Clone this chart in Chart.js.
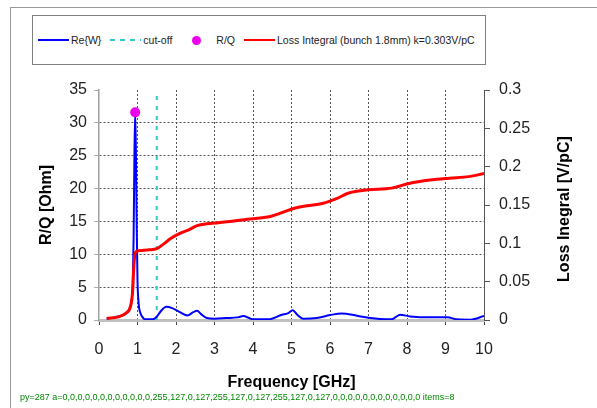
<!DOCTYPE html>
<html>
<head>
<meta charset="utf-8">
<script src="https://cdn.jsdelivr.net/npm/chart.js@4.4.1/dist/chart.umd.min.js"></script>
<style>
  html, body { margin: 0; padding: 0; background: #fff; }
  body { width: 597px; height: 408px; position: relative; overflow: hidden; font-family: "Liberation Sans", Arial, sans-serif; }
  .frame { position: absolute; left: 10px; top: 7px; width: 640px; height: 440px; border-top: 1px solid #999; border-left: 1px solid #999; }
  #chart { position: absolute; left: 0; top: 0; }
  #legend { position: absolute; left: 32px; top: 15px; width: 454px; height: 50px; box-sizing: border-box;
            border: 1px solid #808080; display: flex; align-items: center; padding-left: 5px; background: #fff; }
  .item { display: flex; align-items: center; margin-right: 9px; font-size: 10.5px; color: #222; white-space: nowrap; }
  .swatch { position: relative; width: 31px; height: 10px; margin-right: 2px; }
  .swatch .ln { position: absolute; left: 0; right: 0; top: 4px; height: 2px; }
  .swatch .dot { position: absolute; left: 11px; top: 1px; width: 9px; height: 9px; border-radius: 50%; }
  #dbg { position: absolute; left: 20px; top: 392px; font-size: 9px; color: #080; white-space: nowrap; }
</style>
</head>
<body>
<div class="frame"></div>
<canvas id="chart" width="597" height="408"></canvas>
<div id="legend"></div>
<div id="dbg"></div>
<script>
// Re{W} curve [GHz, Ohm]
const reFreq   = [0.2, 0.4, 0.6, 0.72, 0.8, 0.85, 0.88, 0.9, 0.92, 0.94, 0.96, 0.98, 1.0, 1.03, 1.08, 1.15, 1.2, 1.4, 1.5, 1.6, 1.75, 1.9, 2.1, 2.3, 2.45, 2.55, 2.65, 2.8, 3.0, 3.3, 3.6, 3.75, 3.9, 4.0, 4.4, 4.75, 4.9, 5.03, 5.15, 5.3, 5.65, 6.0, 6.3, 6.7, 7.05, 7.3, 7.6, 7.82, 8.08, 8.6, 9.05, 9.3, 9.65, 10.0];
const reValues = [0.2, 0.4, 0.7, 1.1, 1.8, 3.0, 6, 13, 25, 31.6, 25, 14, 6, 2.5, 1.0, 0.3, 0.1, 0.1, 0.5, 1.3, 2.0, 1.8, 1.2, 0.7, 1.2, 1.4, 0.9, 0.3, 0.2, 0.3, 0.4, 0.6, 0.3, 0.1, 0.1, 0.8, 1.0, 1.5, 0.8, 0.2, 0.3, 0.75, 1.0, 0.65, 0.3, 0.15, 0.1, 0.8, 0.55, 0.4, 0.4, 0.1, 0.05, 0.6];

// Loss integral [GHz, V/pC]
const lossFreq   = [0.2, 0.5, 0.7, 0.82, 0.87, 0.9, 0.93, 0.97, 1.05, 1.3, 1.5, 1.7, 1.85, 2.1, 2.3, 2.55, 2.8, 3.1, 3.4, 3.85, 4.45, 4.8, 5.1, 5.4, 5.8, 6.2, 6.45, 6.7, 7.0, 7.6, 8.05, 8.6, 9.1, 9.6, 10.0];
const lossValues = [0.002, 0.004, 0.009, 0.018, 0.035, 0.065, 0.085, 0.0895, 0.0905, 0.0915, 0.093, 0.1, 0.106, 0.113, 0.117, 0.123, 0.1255, 0.127, 0.1285, 0.1315, 0.135, 0.141, 0.146, 0.149, 0.152, 0.159, 0.165, 0.168, 0.17, 0.172, 0.178, 0.1825, 0.185, 0.187, 0.191];

// cut-off marker and R/Q peak
const cutoffFreq   = [1.5, 1.5];
const cutoffValues = [0, 35];
const rqFreq   = [0.94];
const rqValues = [31.6];

// tick values
const xTicks     = [0, 1, 2, 3, 4, 5, 6, 7, 8, 9, 10];
const leftTicks  = [0, 5, 10, 15, 20, 25, 30, 35];
const rightTicks = [0, 0.05, 0.1, 0.15, 0.2, 0.25, 0.3];

const pts = (xs, ys) => xs.map((x, i) => ({ x: x, y: ys[i] }));
const FONT = '"Liberation Sans", Arial, sans-serif';
Chart.defaults.font.family = FONT;

const datasets = [
  { label: 'Re{W}', data: pts(reFreq, reValues), borderColor: '#0000ff', borderWidth: 2,
    pointRadius: 0, cubicInterpolationMode: 'monotone', yAxisID: 'y', order: 2 },
  { label: 'cut-off', data: pts(cutoffFreq, cutoffValues), borderColor: '#33cccc', borderWidth: 2,
    borderDash: [4, 6], pointRadius: 0, yAxisID: 'y', order: 3 },
  { label: 'R/Q', data: pts(rqFreq, rqValues), showLine: false, pointRadius: 5, pointBorderWidth: 0,
    backgroundColor: '#ee00ee', borderColor: '#ee00ee', yAxisID: 'y', order: 0 },
  { label: 'Loss Integral (bunch 1.8mm) k=0.303V/pC', data: pts(lossFreq, lossValues), borderColor: '#ff0000',
    borderWidth: 3, pointRadius: 0, cubicInterpolationMode: 'monotone', yAxisID: 'y1', order: 1 }
];

// right axis title reads bottom-to-top, chart.js would rotate it the other way
const rightTitle = {
  id: 'rightTitle',
  afterDraw(chart) {
    const { ctx, chartArea, scales: { y1 } } = chart;
    ctx.save();
    ctx.font = 'bold 16px ' + FONT;
    ctx.fillStyle = '#000';
    ctx.textAlign = 'center';
    ctx.textBaseline = 'middle';
    ctx.translate(y1.right - 32, (chartArea.top + chartArea.bottom) / 2 + 4);
    ctx.rotate(-Math.PI / 2);
    ctx.fillText('Loss Inegral [V/pC]', 0, 0);
    ctx.restore();
  }
};

const tickVal = c => c.tick ? c.tick.value : null;

const chart = new Chart(document.getElementById('chart'), {
  type: 'line',
  data: { datasets: datasets },
  options: {
    responsive: false,
    animation: false,
    layout: { padding: { top: 90, left: 20, right: 0, bottom: 10 } },
    plugins: { legend: { display: false }, tooltip: { enabled: false } },
    scales: {
      x: {
        type: 'linear', position: 'bottom', min: 0, max: 10,
        afterBuildTicks: s => { s.ticks = xTicks.map(v => ({ value: v })); },
        ticks: { font: { size: 16 }, color: '#222', padding: 15, maxRotation: 0, autoSkip: false },
        grid: {
          color: c => (tickVal(c) === 0 || tickVal(c) === 10) ? 'rgba(0,0,0,0)' : '#555',
          tickColor: '#444', tickLength: 5, lineWidth: 1
        },
        border: { display: true, color: '#c0c0c0', width: 3, dash: [2, 2] },
        title: { display: true, text: 'Frequency [GHz]', color: '#000',
                 font: { size: 16, weight: 'bold' }, padding: { top: 13, bottom: 6 } },
        afterFit: s => { s.height = 78; }
      },
      y: {
        position: 'left', min: 0, max: 35,
        afterBuildTicks: s => { s.ticks = leftTicks.map(v => ({ value: v })); },
        ticks: { font: { size: 16 }, color: '#222', padding: 7 },
        grid: {
          color: c => (tickVal(c) === 0 || tickVal(c) === 35) ? 'rgba(0,0,0,0)' : '#555',
          tickColor: '#b0b0b0', tickLength: 5, lineWidth: 1
        },
        border: { display: true, color: '#a0a0a0', width: 1.5, dash: [2, 2] },
        title: { display: true, text: 'R/Q [Ohm]', color: '#000',
                 font: { size: 16, weight: 'bold' }, padding: { top: 17, bottom: 0 } },
        afterFit: s => { s.width = 79; }
      },
      y1: {
        position: 'right', min: 0, max: 0.3,
        afterBuildTicks: s => { s.ticks = rightTicks.map(v => ({ value: v })); },
        ticks: { font: { size: 16 }, color: '#222', padding: 9, callback: v => String(v) },
        grid: { drawOnChartArea: false, tickColor: '#555', tickLength: 6 },
        border: { color: '#555', width: 1 },
        afterFit: s => { s.width = 113; }
      }
    }
  },
  plugins: [rightTitle]
});

// html legend built from the datasets, box with border like the original
const legendEl = document.getElementById('legend');
datasets.forEach(ds => {
  const item = document.createElement('div');
  item.className = 'item';
  const sw = document.createElement('div');
  sw.className = 'swatch';
  const mark = document.createElement('div');
  if (ds.showLine === false) {
    mark.className = 'dot';
    mark.style.background = ds.backgroundColor;
  } else {
    mark.className = 'ln';
    mark.style.background = ds.borderDash
      ? `repeating-linear-gradient(to right, ${ds.borderColor} 0 5px, transparent 5px 10px)`
      : ds.borderColor;
  }
  sw.appendChild(mark);
  const txt = document.createElement('span');
  txt.textContent = ds.label;
  if (ds.showLine === false) txt.style.marginLeft = '2px';
  item.appendChild(sw);
  item.appendChild(txt);
  legendEl.appendChild(item);
});

// debug: pixel alpha on the 5-Ohm grid row
const c2 = document.getElementById('chart').getContext('2d');
const py = Math.round(chart.scales.y.getPixelForValue(5));
const row = c2.getImageData(100, py - 1, 12, 3).data;
const a = [];
for (let i = 3; i < row.length; i += 4) a.push(row[i]);
document.getElementById('dbg').textContent = 'py=' + py + ' a=' + a.join(',') + ' items=' + (chart.scales.y._gridLineItems || []).length;
</script>
</body>
</html>
